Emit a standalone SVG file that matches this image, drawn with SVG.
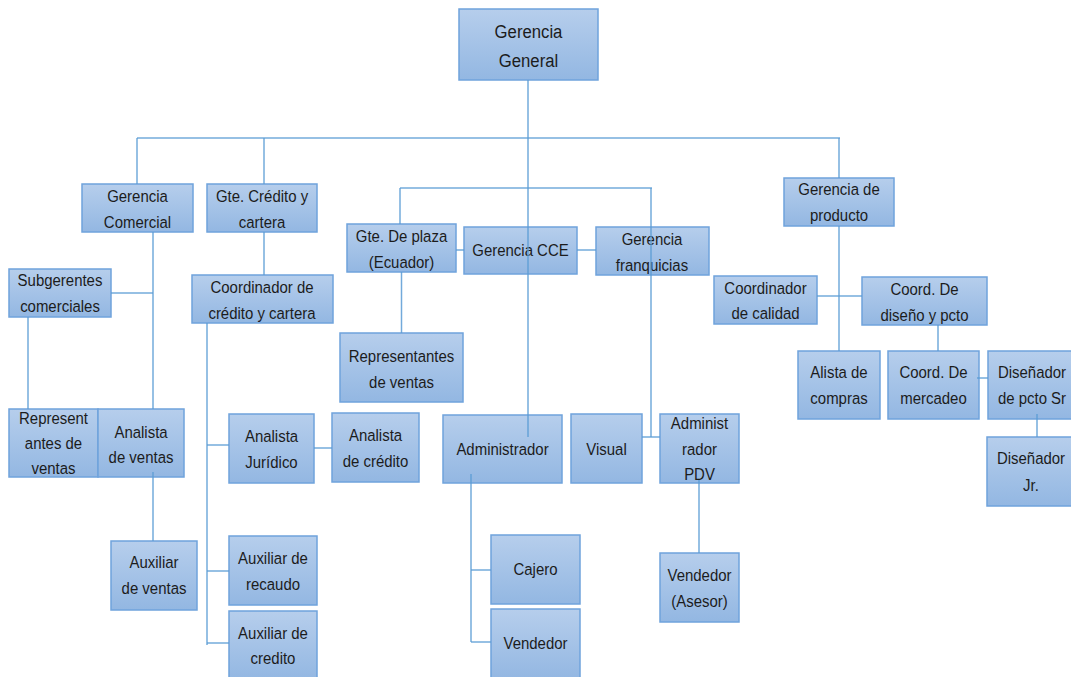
<svg xmlns="http://www.w3.org/2000/svg" width="1071" height="677" viewBox="0 0 1071 677">
<defs>
<linearGradient id="g" x1="0" y1="0" x2="0" y2="1">
<stop offset="0" stop-color="#b6ceec"/>
<stop offset="1" stop-color="#93b7e2"/>
</linearGradient>
<style>
.box{fill:url(#g);stroke:#6fa3dc;stroke-width:1.5}
.t{font-family:"Liberation Sans",Arial,sans-serif;font-size:17px;fill:#1c1c1c;text-anchor:middle}
.big{font-size:19px}
.c line{stroke:#5b9bd5;stroke-width:1.5;stroke-opacity:0.85}
</style>
</defs>
<rect width="1071" height="677" fill="#ffffff"/>
<g id="gerencia-general"><rect class="box" x="459" y="9" width="139" height="71"/><text class="t big" transform="translate(528.5 38) scale(0.88 1)">Gerencia</text><text class="t big" transform="translate(528.5 67) scale(0.88 1)">General</text></g>
<g id="gerencia-comercial"><rect class="box" x="82" y="184" width="111" height="48"/><text class="t" transform="translate(137.5 202) scale(0.88 1)">Gerencia</text><text class="t" transform="translate(137.5 228) scale(0.88 1)">Comercial</text></g>
<g id="gte-credito"><rect class="box" x="207" y="184" width="110" height="48"/><text class="t" transform="translate(262 202) scale(0.88 1)">Gte. Crédito y</text><text class="t" transform="translate(262 228) scale(0.88 1)">cartera</text></g>
<g id="subgerentes"><rect class="box" x="9" y="269" width="102" height="48"/><text class="t" transform="translate(60 286) scale(0.88 1)">Subgerentes</text><text class="t" transform="translate(60 312) scale(0.88 1)">comerciales</text></g>
<g id="coord-credito"><rect class="box" x="192" y="275" width="141" height="48"/><text class="t" transform="translate(262 293) scale(0.88 1)">Coordinador de</text><text class="t" transform="translate(262 319) scale(0.88 1)">crédito y cartera</text></g>
<g id="gte-plaza"><rect class="box" x="347" y="224" width="109" height="48"/><text class="t" transform="translate(401.5 242) scale(0.88 1)">Gte. De plaza</text><text class="t" transform="translate(401.5 268) scale(0.88 1)">(Ecuador)</text></g>
<g id="gerencia-cce"><rect class="box" x="464" y="227" width="113" height="47"/><text class="t" transform="translate(520.5 256) scale(0.88 1)">Gerencia CCE</text></g>
<g id="gerencia-franquicias"><rect class="box" x="596" y="227" width="113" height="48"/><text class="t" transform="translate(652 245) scale(0.88 1)">Gerencia</text><text class="t" transform="translate(652 271) scale(0.88 1)">franquicias</text></g>
<g id="gerencia-producto"><rect class="box" x="784" y="178" width="110" height="48"/><text class="t" transform="translate(839 195) scale(0.88 1)">Gerencia de</text><text class="t" transform="translate(839 221) scale(0.88 1)">producto</text></g>
<g id="representantes-ventas"><rect class="box" x="340" y="333" width="123" height="69"/><text class="t" transform="translate(401.5 362) scale(0.88 1)">Representantes</text><text class="t" transform="translate(401.5 388) scale(0.88 1)">de ventas</text></g>
<g id="coord-calidad"><rect class="box" x="714" y="276" width="103" height="48"/><text class="t" transform="translate(765.5 294) scale(0.88 1)">Coordinador</text><text class="t" transform="translate(765.5 319) scale(0.88 1)">de calidad</text></g>
<g id="coord-diseno"><rect class="box" x="862" y="277" width="125" height="48"/><text class="t" transform="translate(924.5 295) scale(0.88 1)">Coord. De</text><text class="t" transform="translate(924.5 321) scale(0.88 1)">diseño y pcto</text></g>
<g id="represent-ventas"><rect class="box" x="9" y="409" width="89" height="68"/><text class="t" transform="translate(53.5 424) scale(0.88 1)">Represent</text><text class="t" transform="translate(53.5 449) scale(0.88 1)">antes de</text><text class="t" transform="translate(53.5 474) scale(0.88 1)">ventas</text></g>
<g id="analista-ventas"><rect class="box" x="98" y="409" width="86" height="68"/><text class="t" transform="translate(141 438) scale(0.88 1)">Analista</text><text class="t" transform="translate(141 463) scale(0.88 1)">de ventas</text></g>
<g id="analista-juridico"><rect class="box" x="229" y="414" width="85" height="69"/><text class="t" transform="translate(271.5 442) scale(0.88 1)">Analista</text><text class="t" transform="translate(271.5 468) scale(0.88 1)">Jurídico</text></g>
<g id="analista-credito"><rect class="box" x="332" y="413" width="87" height="69"/><text class="t" transform="translate(375.5 441) scale(0.88 1)">Analista</text><text class="t" transform="translate(375.5 467) scale(0.88 1)">de crédito</text></g>
<g id="administrador"><rect class="box" x="443" y="415" width="119" height="68"/><text class="t" transform="translate(502.5 455) scale(0.88 1)">Administrador</text></g>
<g id="visual"><rect class="box" x="571" y="414" width="71" height="69"/><text class="t" transform="translate(606.5 455) scale(0.88 1)">Visual</text></g>
<g id="administrador-pdv"><rect class="box" x="660" y="414" width="79" height="69"/><text class="t" transform="translate(699.5 429) scale(0.88 1)">Administ</text><text class="t" transform="translate(699.5 455) scale(0.88 1)">rador</text><text class="t" transform="translate(699.5 480) scale(0.88 1)">PDV</text></g>
<g id="alista-compras"><rect class="box" x="798" y="351" width="82" height="68"/><text class="t" transform="translate(839 378) scale(0.88 1)">Alista de</text><text class="t" transform="translate(839 404) scale(0.88 1)">compras</text></g>
<g id="coord-mercadeo"><rect class="box" x="888" y="351" width="91" height="68"/><text class="t" transform="translate(933.5 378) scale(0.88 1)">Coord. De</text><text class="t" transform="translate(933.5 404) scale(0.88 1)">mercadeo</text></g>
<g id="disenador-sr"><rect class="box" x="988" y="351" width="88" height="68"/><text class="t" transform="translate(1032 378) scale(0.88 1)">Diseñador</text><text class="t" transform="translate(1032 404) scale(0.88 1)">de pcto Sr</text></g>
<g id="disenador-jr"><rect class="box" x="987" y="437" width="88" height="69"/><text class="t" transform="translate(1031 464) scale(0.88 1)">Diseñador</text><text class="t" transform="translate(1031 491) scale(0.88 1)">Jr.</text></g>
<g id="auxiliar-ventas"><rect class="box" x="111" y="541" width="86" height="69"/><text class="t" transform="translate(154 568) scale(0.88 1)">Auxiliar</text><text class="t" transform="translate(154 594) scale(0.88 1)">de ventas</text></g>
<g id="auxiliar-recaudo"><rect class="box" x="229" y="536" width="88" height="69"/><text class="t" transform="translate(273 564) scale(0.88 1)">Auxiliar de</text><text class="t" transform="translate(273 590) scale(0.88 1)">recaudo</text></g>
<g id="auxiliar-credito"><rect class="box" x="229" y="611" width="88" height="69"/><text class="t" transform="translate(273 639) scale(0.88 1)">Auxiliar de</text><text class="t" transform="translate(273 664) scale(0.88 1)">credito</text></g>
<g id="cajero"><rect class="box" x="491" y="535" width="89" height="69"/><text class="t" transform="translate(535.5 575) scale(0.88 1)">Cajero</text></g>
<g id="vendedor"><rect class="box" x="491" y="609" width="89" height="70"/><text class="t" transform="translate(535.5 649) scale(0.88 1)">Vendedor</text></g>
<g id="vendedor-asesor"><rect class="box" x="660" y="553" width="79" height="69"/><text class="t" transform="translate(699.5 581) scale(0.88 1)">Vendedor</text><text class="t" transform="translate(699.5 607) scale(0.88 1)">(Asesor)</text></g>
<g id="connectors" class="c">
<line x1="528" y1="80" x2="528" y2="437"/>
<line x1="137" y1="138" x2="840" y2="138"/>
<line x1="137" y1="138" x2="137" y2="184"/>
<line x1="264" y1="138" x2="264" y2="184"/>
<line x1="264" y1="232" x2="264" y2="275"/>
<line x1="839" y1="138" x2="839" y2="178"/>
<line x1="839" y1="226" x2="839" y2="351"/>
<line x1="817" y1="296" x2="862" y2="296"/>
<line x1="938" y1="325" x2="938" y2="351"/>
<line x1="977" y1="378" x2="988" y2="378"/>
<line x1="1037" y1="414" x2="1037" y2="437"/>
<line x1="400" y1="188" x2="652" y2="188"/>
<line x1="400" y1="188" x2="400" y2="224"/>
<line x1="401.5" y1="272" x2="401.5" y2="333"/>
<line x1="456" y1="250" x2="464" y2="250"/>
<line x1="577" y1="250" x2="596" y2="250"/>
<line x1="651" y1="188" x2="651" y2="437"/>
<line x1="642" y1="437" x2="660" y2="437"/>
<line x1="699" y1="480" x2="699" y2="553"/>
<line x1="471" y1="474" x2="471" y2="642"/>
<line x1="471" y1="570" x2="491" y2="570"/>
<line x1="471" y1="642" x2="491" y2="642"/>
<line x1="153" y1="232" x2="153" y2="409"/>
<line x1="153" y1="472" x2="153" y2="541"/>
<line x1="111" y1="293" x2="153" y2="293"/>
<line x1="28" y1="317" x2="28" y2="409"/>
<line x1="207" y1="323" x2="207" y2="645"/>
<line x1="207" y1="445" x2="229" y2="445"/>
<line x1="207" y1="571" x2="229" y2="571"/>
<line x1="207" y1="643" x2="229" y2="643"/>
<line x1="314" y1="448" x2="332" y2="448"/>
</g>
</svg>
